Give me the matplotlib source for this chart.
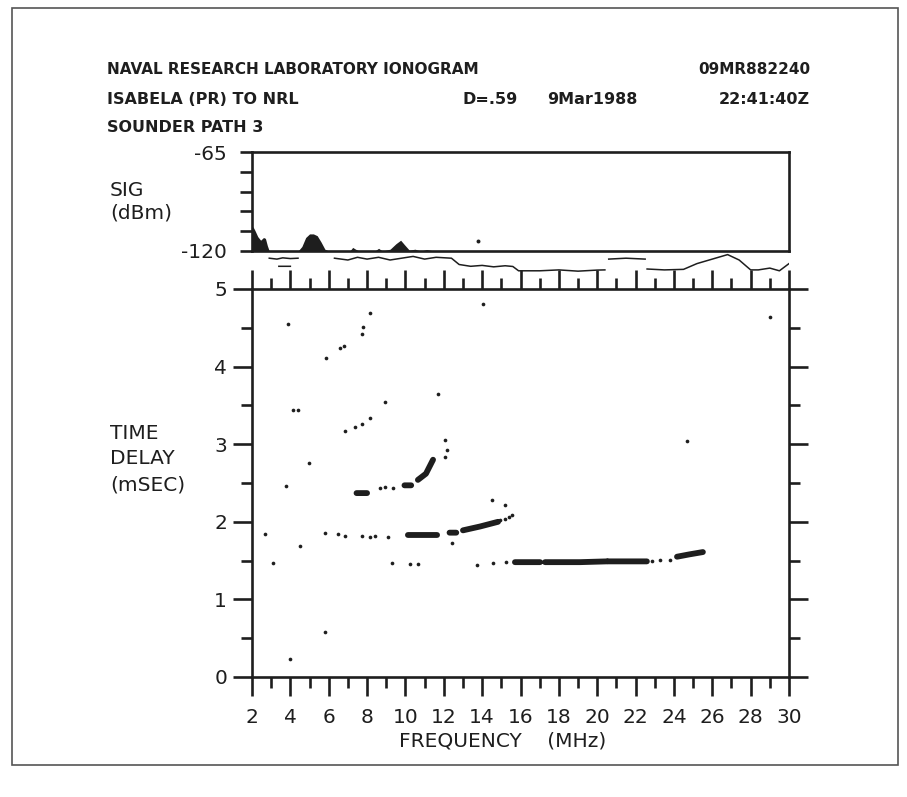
import numpy as np
import matplotlib
matplotlib.use("Agg")
import matplotlib.pyplot as plt
from matplotlib.ticker import MultipleLocator, FixedLocator, FixedFormatter
from matplotlib.patches import Rectangle

nan = np.nan

# ---------------- data ----------------
title_left = "NAVAL RESEARCH LABORATORY IONOGRAM"
title_right = "09MR882240"
path_text = "ISABELA (PR) TO NRL"
d_text = "D=.59"
date_text = "9Mar1988"
time_text = "22:41:40Z"
sounder_text = "SOUNDER PATH 3"

# received signal strength (dBm) vs frequency (MHz)
sig_freq = [2.0, 2.05, 2.15, 2.3, 2.45, 2.6, 2.7, 2.8, 2.9, 4.4, 4.6, 4.8, 5.0, 5.2, 5.4, 5.6, 5.8, 6.0,
            7.1, 7.25, 7.4, 7.6, 8.4, 8.6, 8.8, 9.2, 9.5, 9.75, 9.95, 10.2, 10.5, 10.8, 11.1, 11.5, 12.0, 30.0]
sig_dbm = [-107.0, -106.5, -108.5, -112.0, -114.0, -112.5, -113.0, -117.0, -120.0, -120.0, -117.5, -112.5,
           -110.5, -110.5, -111.5, -115.0, -119.0, -120.0,
           -120.0, -118.0, -119.0, -120.0, -120.0, -118.5, -120.0, -119.0, -116.0, -114.0, -116.5, -119.5,
           -119.0, -120.0, -119.2, -120.0, -120.0, -120.0]
sig_dot_freq = [13.8]
sig_dot_dbm = [-114.4]

# noise-level trace drawn beneath the signal panel (dBm, continuing below -120)
noise_freq = [2.9, 3.3, 3.6, 4.0, 4.4, nan, 3.4, 4.0, nan,
              6.3, 7.0, 7.5, 8.0, 8.6, 9.2, 9.8, 10.4, 11.0, 11.6, 12.4, 12.8, 13.4, 14.0, 14.6, 15.2,
              15.6, 15.9, 17.0, 18.0, 19.0, 20.0, 20.4, nan, 20.6, 21.5, 22.5, nan,
              22.6, 23.5, 24.5, 25.2, 26.0, 26.8, 27.4, 28.0, 28.4, 29.0, 29.5, 30.0]
noise_dbm = [-124.0, -124.5, -123.8, -124.2, -124.0, nan, -128.5, -128.5, nan,
             -124.0, -125.0, -123.5, -124.5, -123.5, -125.0, -124.0, -123.0, -124.5, -123.5, -124.0,
             -127.5, -128.5, -128.0, -128.8, -128.2, -128.6, -131.0, -131.0, -130.5, -131.2, -130.6,
             -130.5, nan, -124.5, -124.0, -124.5, nan,
             -130.0, -130.5, -130.2, -127.0, -124.5, -122.0, -125.0, -130.5, -130.5, -129.5, -131.0, -127.0]

# strong echo traces (frequency MHz, time delay ms); nan separates pieces
heavy_freq = [15.71, 17.02, nan, 17.28, 18.2, 19.10, 20.51, nan, 20.56, 21.6, 22.59, nan,
              24.16, 24.8, 25.51, nan,
              10.13, 10.9, 11.65, nan, 12.3, 12.65, nan, 13.0, 13.9, 14.83, nan,
              7.45, 8.0, nan, 9.95, 10.3, nan, 10.65, 11.07, 11.44]
heavy_delay = [1.48, 1.48, nan, 1.48, 1.48, 1.48, 1.49, nan, 1.49, 1.49, 1.49, nan,
               1.55, 1.58, 1.61, nan,
               1.83, 1.83, 1.83, nan, 1.86, 1.86, nan, 1.89, 1.94, 2.00, nan,
               2.37, 2.37, nan, 2.47, 2.47, nan, 2.54, 2.62, 2.80]

# weaker echo dots
echo_freq = [14.57, 15.27, 22.85, 23.27, 23.79, 13.73,
             2.68, 5.81, 6.48, 6.85, 7.74, 8.15, 8.41, 9.09, 12.43, 14.93, 15.2, 15.4, 15.56, 15.19, 14.5,
             8.67, 8.93, 9.35, 12.06, 12.17, 12.06, 11.70,
             6.85, 7.37, 7.74, 8.15, 8.93,
             5.86, 6.59, 6.80, 7.74, 7.79, 8.15,
             3.88, 4.14, 4.40, 4.97, 3.77, 4.50, 3.09, 9.30, 10.24, 10.65, 24.68, 29.0, 5.81, 3.98, 14.04]
echo_delay = [1.47, 1.48, 1.50, 1.51, 1.51, 1.44,
              1.84, 1.86, 1.84, 1.82, 1.82, 1.81, 1.82, 1.81, 1.73, 2.02, 2.04, 2.06, 2.09, 2.22, 2.28,
              2.44, 2.45, 2.44, 2.84, 2.93, 3.05, 3.65,
              3.17, 3.22, 3.26, 3.34, 3.54,
              4.11, 4.24, 4.27, 4.42, 4.51, 4.69,
              4.55, 3.44, 3.44, 2.76, 2.46, 1.69, 1.47, 1.47, 1.46, 1.46, 3.04, 4.64, 0.58, 0.23, 4.81]

freq_ticks = list(range(2, 31, 2))
delay_ticks = [0, 1, 2, 3, 4, 5]
sig_ticks = [-120, -109, -98, -87, -76, -65]
sig_labels = ["-120", "", "", "", "", "-65"]

# ---------------- figure ----------------
W, H = 907, 797
fig = plt.figure(figsize=(W / 100, H / 100), dpi=100)
ink = "#1e1e1e"
plt.rcParams["font.family"] = ["DejaVu Sans"]


def fx(px):
    return px / W


def fy(py):
    return 1 - py / H


L, R = 252, 789
ax = fig.add_axes([fx(L), fy(677), fx(R) - fx(L), fy(289) - fy(677)])
sax = fig.add_axes([fx(L), fy(251), fx(R) - fx(L), fy(152) - fy(251)])
nax = fig.add_axes([fx(L), fy(289), fx(R) - fx(L), fy(251) - fy(289)], zorder=-1)

lw_spine = 1.9

# main ionogram
ax.set_xlim(2, 30)
ax.set_ylim(0, 5)
ax.plot(heavy_freq, heavy_delay, color=ink, lw=4.2, solid_capstyle="round")
ax.scatter(echo_freq, echo_delay, s=7, color=ink, linewidths=0)
ax.xaxis.set_major_locator(FixedLocator(freq_ticks))
ax.xaxis.set_minor_locator(MultipleLocator(1))
ax.yaxis.set_major_locator(FixedLocator(delay_ticks))
ax.yaxis.set_minor_locator(MultipleLocator(0.5))
ax.tick_params(which="major", direction="out", length=14, width=lw_spine, color=ink,
               top=True, right=True, labeltop=False, labelright=False, labelsize=14.5,
               labelcolor=ink)
ax.tick_params(which="minor", direction="out", length=8, width=lw_spine, color=ink,
               top=True, right=True)
ax.tick_params(axis="x", which="major", pad=8)
ax.tick_params(axis="y", which="major", pad=4)
for s in ax.spines.values():
    s.set_linewidth(lw_spine)
    s.set_color(ink)

ax.set_xlabel("FREQUENCY    (MHz)", fontsize=14.5, color=ink)
ax.xaxis.set_label_coords((503 - L) / (R - L), -0.14)

# signal panel
sax.set_xlim(2, 30)
sax.set_ylim(-120, -65)
sax.fill_between(sig_freq, -120, sig_dbm, color=ink, lw=0)
sax.scatter(sig_dot_freq, sig_dot_dbm, s=8, color=ink, linewidths=0)
sax.set_xticks([])
sax.yaxis.set_major_locator(FixedLocator(sig_ticks))
sax.yaxis.set_major_formatter(FixedFormatter(sig_labels))
sax.tick_params(axis="y", direction="out", length=9, width=lw_spine, color=ink, pad=9,
                labelsize=14.5, labelcolor=ink)
for s in sax.spines.values():
    s.set_linewidth(lw_spine)
    s.set_color(ink)

# noise trace strip
nax.set_xlim(2, 30)
nax.set_ylim(-120 - 38 * 55 / 99, -120)
nax.plot(noise_freq, noise_dbm, color=ink, lw=1.1)
nax.axis("off")

# left-hand labels
fig.text(fx(110), fy(202), "SIG\n(dBm)", fontsize=14.5, color=ink, ha="left", va="center",
         linespacing=1.25)
fig.text(fx(110), fy(459), "TIME\nDELAY\n(mSEC)", fontsize=14.5, color=ink, ha="left",
         va="center", linespacing=1.45)

# header text
hdr = dict(color=ink, fontweight="bold", va="center")
fig.text(fx(107), fy(70), title_left, fontsize=11, ha="left", **hdr)
fig.text(fx(810), fy(70), title_right, fontsize=11, ha="right", **hdr)
fig.text(fx(107), fy(100), path_text, fontsize=11.5, ha="left", **hdr)
fig.text(fx(462), fy(100), d_text, fontsize=11.5, ha="left", **hdr)
fig.text(fx(547), fy(100), date_text, fontsize=11.5, ha="left", **hdr)
fig.text(fx(810), fy(100), time_text, fontsize=11.5, ha="right", **hdr)
fig.text(fx(107), fy(127), sounder_text, fontsize=11.5, ha="left", **hdr)

# page frame
fig.patches.append(Rectangle((fx(12), fy(765)), fx(898) - fx(12), fy(8) - fy(765),
                             transform=fig.transFigure, fill=False, lw=1.2, ec="#555555"))

fig.savefig("out.png", dpi=100, facecolor="white")
